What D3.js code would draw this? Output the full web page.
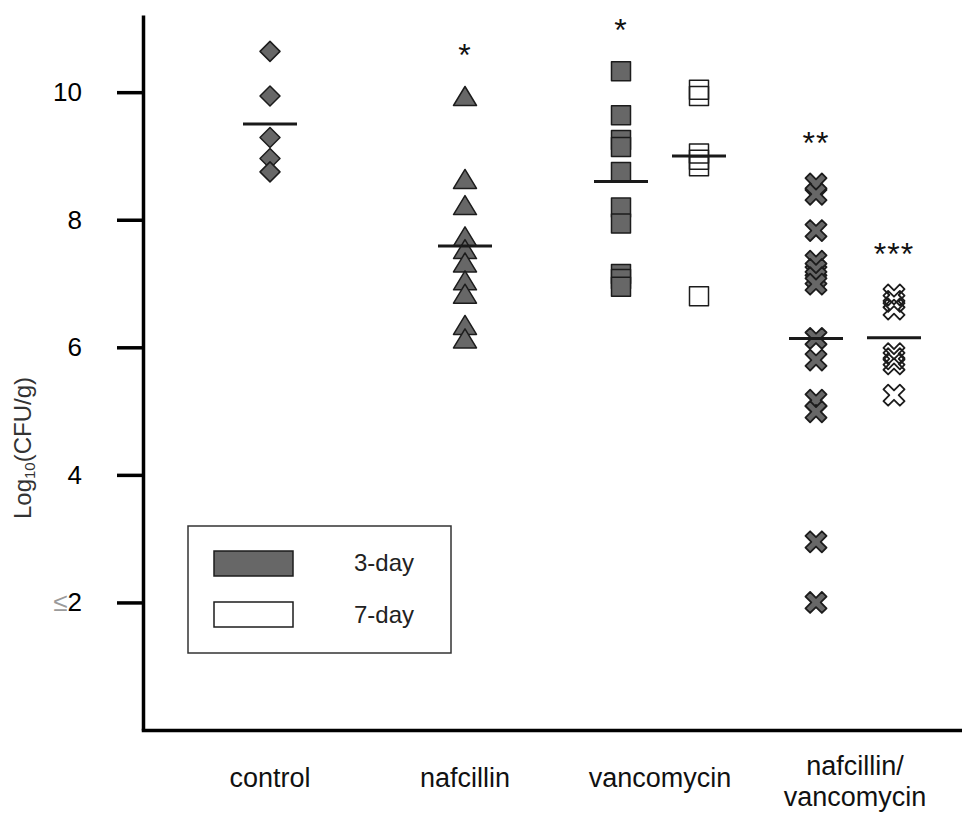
<!DOCTYPE html>
<html>
<head>
<meta charset="utf-8">
<script src="https://cdn.jsdelivr.net/npm/d3@7"></script>
<style>
  html, body { margin: 0; padding: 0; background: #fff; }
  svg { display: block; font-family: "Liberation Sans", Arial, Helvetica, sans-serif; }
</style>
</head>
<body>
<svg id="chart" width="962" height="815"></svg>
<script>
// ---------------- data ----------------
const categories = ["control", "nafcillin", "vancomycin", "nafcillin/vancomycin"];
const control3   = [10.64, 9.94, 9.29, 8.96, 8.75];
const nafcillin3 = [9.94, 8.64, 8.23, 7.74, 7.54, 7.33, 7.05, 6.84, 6.35, 6.14];
const vanco3     = [10.33, 9.64, 9.25, 9.14, 8.75, 8.19, 7.94, 7.15, 7.07, 6.95];
const vanco7     = [10.04, 9.94, 9.04, 8.94, 8.84, 6.80];
const combo3     = [8.56, 8.40, 7.83, 7.35, 7.22, 7.09, 6.99, 6.14, 5.80, 5.17, 4.99, 2.95, 2.00];
const combo7     = [6.82, 6.72, 6.60, 5.90, 5.82, 5.74, 5.25];
const means3     = [9.50, 7.59, 8.60, 6.14];
const means7     = [null, null, 9.00, 6.15];
const signif3    = ["", "*", "*", "**"];
const signif7    = ["", "", "", "***"];
const yTicks     = [2, 4, 6, 8, 10];
const yTickLabels = ["≤2", "4", "6", "8", "10"];
const legendLabels = ["3-day", "7-day"];
const yTitle = "Log10(CFU/g)";

const day3 = [control3, nafcillin3, vanco3, combo3];
const day7 = [null, null, vanco7, combo7];
const shapes = ["diamond", "triangle", "square", "cross"];

// ---------------- layout ----------------
const svg = d3.select("#chart");
const plotLeft = 143, plotRight = 962, plotTop = 15, plotBottom = 730;

const y = d3.scaleLinear().domain([0, 11.21]).range([plotBottom, plotTop]);
const x = d3.scalePoint().domain(categories).range([270, 855]);
const pairOffset = 39;

const fill3 = "#676767", strokeCol = "#1c1c1c";

function shapePath(type) {
  if (type === "diamond") return "M0,-10L10,0L0,10L-10,0Z";
  if (type === "triangle") return "M0,-9.5L11.5,9.5L-11.5,9.5Z";
  if (type === "square") return "M-9.5,-9.5H9.5V9.5H-9.5Z";
  // thick X: plus rotated by 45 degrees
  const h = 3.3, L = 11.6;
  const pts = [[-h,-L],[h,-L],[h,-h],[L,-h],[L,h],[h,h],[h,L],[-h,L],[-h,h],[-L,h],[-L,-h],[-h,-h]];
  const c = Math.SQRT1_2;
  return "M" + pts.map(([a,b]) => [(a - b) * c, (a + b) * c].map(v => v.toFixed(2)).join(",")).join("L") + "Z";
}

// build series list
const series = [];
categories.forEach((cat, i) => {
  const hasPair = day7[i] !== null;
  series.push({ cat, i, values: day3[i], mean: means3[i], sig: signif3[i], dx: hasPair ? -pairOffset : 0, filled: true, shape: shapes[i] });
  if (hasPair) series.push({ cat, i, values: day7[i], mean: means7[i], sig: signif7[i], dx: pairOffset, filled: false, shape: shapes[i] });
});

// ---------------- axes ----------------
const yAxis = d3.axisLeft(y)
  .tickValues(yTicks)
  .tickSize(26)
  .tickSizeOuter(0)
  .tickPadding(35)
  .tickFormat((d, k) => yTickLabels[k]);

const gy = svg.append("g").attr("transform", `translate(${plotLeft},0)`).call(yAxis);
gy.select(".domain").attr("stroke", "#000").attr("stroke-width", 3.5);
gy.selectAll(".tick line").attr("stroke", "#000").attr("stroke-width", 3.5);
gy.selectAll(".tick text")
  .attr("fill", "#000")
  .attr("font-size", 26)
  .attr("font-family", '"Liberation Sans", Arial, sans-serif');
// the "≤" glyph in the reference is light grey
gy.selectAll(".tick text").each(function(d, k) {
  const lbl = yTickLabels[k];
  if (lbl.startsWith("≤")) {
    const t = d3.select(this);
    t.text(null);
    t.append("tspan").attr("fill", "#9a9a9a").attr("font-weight", 300).text("≤");
    t.append("tspan").text(lbl.slice(1));
  }
});

// x axis line
const xAxisScale = d3.scaleLinear().range([plotLeft - 1.75, plotRight]);
const gx = svg.append("g").attr("transform", `translate(0,${plotBottom})`)
  .call(d3.axisBottom(xAxisScale).tickValues([]).tickSizeOuter(0));
gx.select(".domain").attr("stroke", "#000").attr("stroke-width", 3.5);

// category labels
categories.forEach(cat => {
  const parts = cat.includes("/") ? [cat.slice(0, cat.indexOf("/") + 1), cat.slice(cat.indexOf("/") + 1)] : [cat];
  const t = svg.append("text")
    .attr("x", x(cat))
    .attr("text-anchor", "middle")
    .attr("font-size", 27)
    .attr("fill", "#111");
  if (parts.length === 1) {
    t.attr("y", 787).text(parts[0]);
  } else {
    t.append("tspan").attr("x", x(cat)).attr("y", 775).text(parts[0]);
    t.append("tspan").attr("x", x(cat)).attr("y", 806).text(parts[1]);
  }
});

// y title with subscript
const yt = svg.append("text")
  .attr("transform", `translate(31,448) rotate(-90)`)
  .attr("text-anchor", "middle")
  .attr("font-size", 24)
  .attr("fill", "#333");
yt.append("tspan").text(yTitle.slice(0, 3));
yt.append("tspan").attr("font-size", 15).attr("dy", 4).text(yTitle.slice(3, 5));
yt.append("tspan").attr("dy", -4).text(yTitle.slice(5));

// ---------------- marks ----------------
series.forEach(s => {
  const cx = x(s.cat) + s.dx;
  const g = svg.append("g");
  g.selectAll("path.pt")
    .data(s.values)
    .join("path")
    .attr("class", "pt")
    .attr("d", shapePath(s.shape))
    .attr("transform", d => `translate(${cx},${y(d)})`)
    .attr("fill", s.filled ? fill3 : "none")
    .attr("stroke", strokeCol)
    .attr("stroke-width", s.shape === "cross" ? 1.8 : 1.5)
    .attr("stroke-linejoin", "round");

  // mean line
  if (s.mean !== null) {
    g.append("line")
      .attr("x1", cx - 27).attr("x2", cx + 27)
      .attr("y1", y(s.mean)).attr("y2", y(s.mean))
      .attr("stroke", "#1a1a1a").attr("stroke-width", 3);
  }
  // significance marks
  if (s.sig) {
    g.append("text")
      .attr("x", cx)
      .attr("y", y(d3.max(s.values) + 0.77) + 19)
      .attr("text-anchor", "middle")
      .attr("font-size", 32)
      .attr("letter-spacing", 1)
      .attr("fill", "#111")
      .text(s.sig);
  }
});

// ---------------- legend ----------------
const lg = svg.append("g");
lg.append("rect").attr("x", 188).attr("y", 526).attr("width", 263).attr("height", 127)
  .attr("fill", "#fff").attr("stroke", "#333").attr("stroke-width", 1.5);
legendLabels.forEach((lbl, k) => {
  lg.append("rect").attr("x", 214).attr("y", 551 + k * 51).attr("width", 79).attr("height", 25)
    .attr("fill", k === 0 ? fill3 : "#fff").attr("stroke", strokeCol).attr("stroke-width", 1.5);
  lg.append("text").attr("x", 354).attr("y", 571 + k * 52).attr("font-size", 24).attr("fill", "#222").text(lbl);
});
</script>
</body>
</html>
